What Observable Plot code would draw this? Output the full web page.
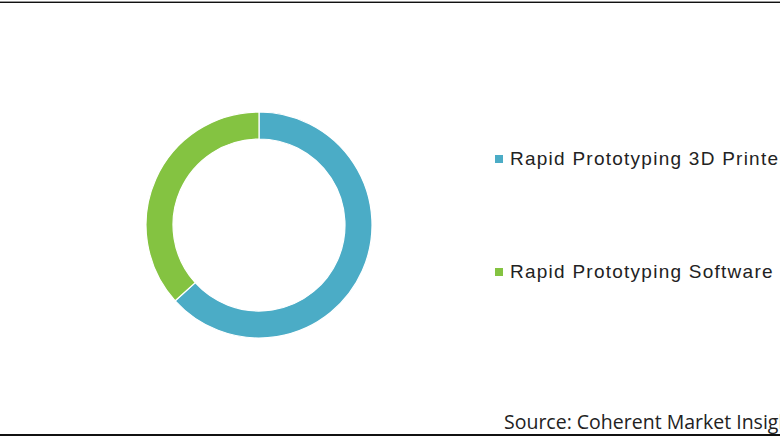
<!DOCTYPE html>
<html>
<head>
<meta charset="utf-8">
<script src="https://cdn.jsdelivr.net/npm/d3@7"></script>
<script src="https://cdn.jsdelivr.net/npm/@observablehq/plot@0.6"></script>
<style>
  html, body { margin: 0; padding: 0; background: #fff; }
  body { position: relative; width: 780px; height: 440px; overflow: hidden; }
  .rule-top { position: absolute; left: 0; width: 780px; top: 1px; height: 1px; background: #999; }
  .rule-top2 { position: absolute; left: 0; width: 780px; top: 2px; height: 1px; background: #111; }
  .rule-bot { position: absolute; left: 0; width: 780px; top: 434px; height: 2px; background: #111; }
  #chart { position: absolute; left: 0; top: 0; }
  .legend { position: absolute; left: 495px; top: 0; white-space: nowrap;
            font-family: "Liberation Sans", Arial, sans-serif; font-size: 19px; letter-spacing: 1.25px; color: #222; }
  .legend .item { position: absolute; left: 0; display: flex; align-items: center; white-space: nowrap; }
  .legend .sw { width: 8px; height: 8px; margin-right: 7px; flex: none; }
  .source { position: absolute; left: 504px; top: 408px; white-space: nowrap;
            font-family: "Open Sans", "Liberation Sans", sans-serif; font-size: 19.5px; color: #222; }
</style>
</head>
<body>
<div class="rule-top"></div>
<div class="rule-top2"></div>
<div class="rule-bot"></div>
<div id="chart"></div>
<div class="legend" id="legend"></div>
<div class="source" id="source"></div>
<script>
const segments = ["Rapid Prototyping 3D Printers", "Rapid Prototyping Software"];
const shares = [63.3, 36.7];
const colors = ["#4bacc6", "#84c341"];
const sourceText = "Source: Coherent Market Insights";

const data = segments.map((s, i) => ({segment: s, share: shares[i]}));

const color = Plot.scale({color: {type: "ordinal", domain: segments, range: colors}});

const W = 520, H = 440;
const CX = 259, CY = 225, R_OUT = 113, R_IN = 86;

function donut(index, scales, values, dimensions) {
  const pie = d3.pie().sort(null).value(d => d.share);
  const arc = d3.arc().innerRadius(R_IN).outerRadius(R_OUT);
  const g = d3.create("svg:g").attr("transform", `translate(${CX},${CY})`);
  g.selectAll("path")
    .data(pie(data))
    .join("path")
    .attr("d", arc)
    .attr("fill", d => color.apply(d.data.segment))
    .attr("stroke", "#fff")
    .attr("stroke-width", 1.2);
  return g.node();
}

const chart = Plot.plot({
  width: W,
  height: H,
  margin: 0,
  style: {background: "transparent", overflow: "visible"},
  marks: [donut]
});
document.getElementById("chart").appendChild(chart);

const legend = document.getElementById("legend");
const ly = d3.scalePoint().domain(segments).range([159, 272]);
segments.forEach(s => {
  const item = document.createElement("div");
  item.className = "item";
  item.style.top = (ly(s) - 12) + "px";
  item.style.height = "24px";
  const sw = document.createElement("span");
  sw.className = "sw";
  sw.style.background = color.apply(s);
  const t = document.createElement("span");
  t.textContent = s;
  item.appendChild(sw);
  item.appendChild(t);
  legend.appendChild(item);
});
document.getElementById("source").textContent = sourceText;
</script>
</body>
</html>
